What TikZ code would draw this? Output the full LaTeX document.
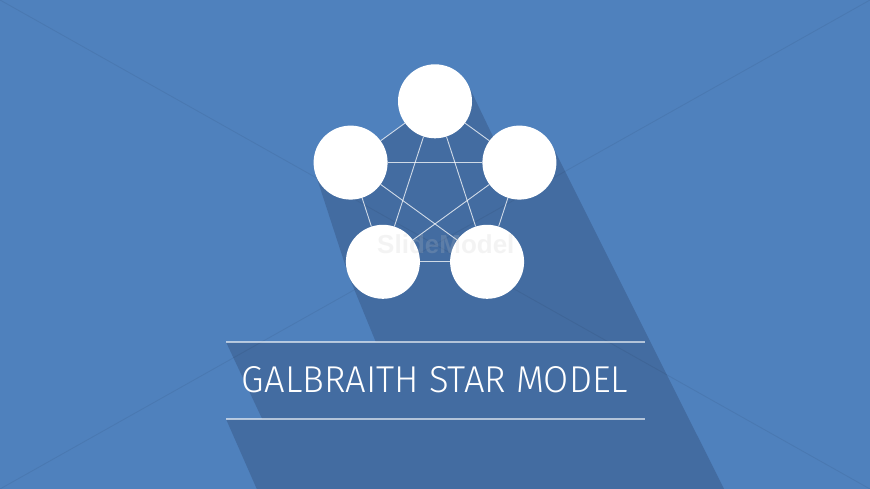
\documentclass[tikz,border=0pt]{standalone}
\usepackage{graphicx}
\usepackage{fontspec}
\newfontfamily\titlefont{Fira Sans Light}
\newfontfamily\wmfont{Liberation Sans}
\definecolor{bgblue}{HTML}{4F81BD}
\definecolor{shadowblue}{HTML}{436CA1}
\begin{document}
\begin{tikzpicture}[x=1pt,y=-1pt,
  hub/.style={circle, fill=white, minimum size=74pt, inner sep=0pt},
  link/.style={draw=white, draw opacity=0.75, line width=0.9pt},
  rulebar/.style={draw=white, draw opacity=0.6, line width=1.2pt},
  ray/.style={draw=black, draw opacity=0.06, line width=0.9pt},
  shade/.style={fill=shadowblue}]
\useasboundingbox (0,0) rectangle (870,489);
\fill[bgblue] (0,0) rectangle (870,489);
\begin{scope}
  \clip (0,0) rectangle (870,489);
  % long shadow of the star cluster
  \fill[shade] (316.4,176.6) -- (350.6,162.6) -- (435,101.3) -- (468.4,85.3)
     -- (494.8,140.3) -- (519.4,162.6) -- (552.5,146.05) -- (759.5,560)
     -- (465.1,560) -- (348.7,275.8) -- cycle;
  % long shadows of the two title rules
  \fill[shade] (226,342) -- (645,342) -- (747.5,560) -- (328.5,560) -- cycle;
  \fill[shade] (226,419) -- (645,419) -- (707,560) -- (288,560) -- cycle;
  % faint diagonal rays
  \draw[ray] (0,0) -- (870,489);
  \draw[ray] (870,0) -- (0,489);
\end{scope}
% circles
\node[hub] (top) at (435,101.3) {};
\node[hub] (right) at (519.4,162.6) {};
\node[hub] (left) at (350.6,162.6) {};
\node[hub] (br) at (487.1,261.8) {};
\node[hub] (bl) at (382.9,261.8) {};
% pentagon edges
\draw[link] (top) -- (right);
\draw[link] (right) -- (br);
\draw[link] (br) -- (bl);
\draw[link] (bl) -- (left);
\draw[link] (left) -- (top);
% star diagonals
\draw[link] (top) -- (bl);
\draw[link] (top) -- (br);
\draw[link] (left) -- (right);
\draw[link] (left) -- (br);
\draw[link] (right) -- (bl);
% watermark
\node[text=black!22, opacity=0.2, font=\wmfont\bfseries\fontsize{26}{26}\selectfont,
  anchor=base west, inner sep=0pt] (wm) at (377,253) {SlideModel};
% title rules
\coordinate (ruleTopA) at (226,342);
\coordinate (ruleTopB) at (645,342);
\coordinate (ruleBotA) at (226,419);
\coordinate (ruleBotB) at (645,419);
\draw[rulebar] (ruleTopA) -- (ruleTopB);
\draw[rulebar] (ruleBotA) -- (ruleBotB);
% title
\node[text=white, inner sep=0pt] (title) at (435,380)
  {\resizebox{386pt}{26pt}{\titlefont GALBRAITH STAR MODEL}};
\end{tikzpicture}
\end{document}
